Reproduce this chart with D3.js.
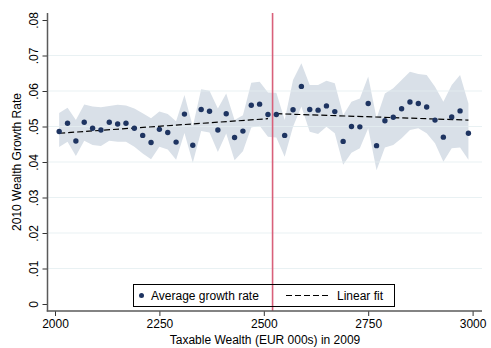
<!DOCTYPE html>
<html>
<head>
<meta charset="utf-8">
<script src="https://cdn.jsdelivr.net/npm/d3@7"></script>
<style>
  body { margin: 0; background: #fff; }
  text { font-family: "Liberation Sans", Arial, sans-serif; font-size: 12px; fill: #000; }
</style>
</head>
<body>
<div id="chart"></div>
<script>
// Bin midpoints (EUR 000s)
var wealth = [2010, 2030, 2050, 2070, 2090, 2110, 2130, 2150, 2170, 2190,
  2210, 2230, 2250, 2270, 2290, 2310, 2330, 2350, 2370, 2390,
  2410, 2430, 2450, 2470, 2490, 2510, 2530, 2550, 2570, 2590,
  2610, 2630, 2650, 2670, 2690, 2710, 2730, 2750, 2770, 2790,
  2810, 2830, 2850, 2870, 2890, 2910, 2930, 2950, 2970, 2990];

// Average growth rate per bin
var growth = [0.0486, 0.0509, 0.0459, 0.0512, 0.0495, 0.0490, 0.0512, 0.0507, 0.0509, 0.0495,
  0.0475, 0.0455, 0.0492, 0.0483, 0.0456, 0.0535, 0.0447, 0.0548, 0.0543, 0.0490,
  0.0536, 0.0469, 0.0487, 0.0560, 0.0563, 0.0534, 0.0534, 0.0475, 0.0547, 0.0613,
  0.0548, 0.0546, 0.0558, 0.0542, 0.0458, 0.0500, 0.0499, 0.0565, 0.0446, 0.0516,
  0.0526, 0.0550, 0.0569, 0.0565, 0.0555, 0.0518, 0.0470, 0.0527, 0.0544, 0.0481];

// Confidence band
var ciUpper = [0.0538, 0.0553, 0.0518, 0.0562, 0.0556, 0.0554, 0.0558, 0.0561, 0.0559, 0.0551,
  0.0537, 0.0523, 0.0542, 0.0535, 0.0515, 0.0589, 0.0500, 0.0605, 0.0601, 0.0551,
  0.0593, 0.0518, 0.0532, 0.0623, 0.0626, 0.0596, 0.0595, 0.0518, 0.0631, 0.0678,
  0.0617, 0.0617, 0.0629, 0.0622, 0.0532, 0.0570, 0.0579, 0.0641, 0.0523, 0.0593,
  0.0608, 0.0631, 0.0654, 0.0648, 0.0645, 0.0612, 0.0570, 0.0617, 0.0645, 0.0565];
var ciLower = [0.0442, 0.0457, 0.0417, 0.0460, 0.0448, 0.0445, 0.0460, 0.0457, 0.0457, 0.0443,
  0.0424, 0.0408, 0.0443, 0.0435, 0.0406, 0.0482, 0.0398, 0.0487, 0.0483, 0.0428,
  0.0480, 0.0405, 0.0430, 0.0497, 0.0502, 0.0471, 0.0469, 0.0415, 0.0499, 0.0556,
  0.0485, 0.0479, 0.0499, 0.0481, 0.0392, 0.0426, 0.0439, 0.0495, 0.0377, 0.0441,
  0.0448, 0.0467, 0.0490, 0.0495, 0.0481, 0.0453, 0.0401, 0.0439, 0.0441, 0.0406];

// Linear fits on each side of the threshold
var fitLeftX = [2010, 2510];
var fitLeftY = [0.0481, 0.0522];
var fitRightX = [2530, 2990];
var fitRightY = [0.0536, 0.0518];

var threshold = 2521;

var xTicks = [2000, 2250, 2500, 2750, 3000];
var yTicks = [0, 0.01, 0.02, 0.03, 0.04, 0.05, 0.06, 0.07, 0.08];
var yTickLabels = ["0", ".01", ".02", ".03", ".04", ".05", ".06", ".07", ".08"];

var svgWidth = 491;
var svgHeight = 348;

// plot region edges
var plotLeft = 47.5, plotRight = 482, plotTop = 13, plotBottom = 311;

var svg = d3.select("#chart")
  .append("svg")
  .attr("width", svgWidth)
  .attr("height", svgHeight);

var xScale = d3.scaleLinear().domain([2000, 3000]).range([55, 472.6]);
var yScale = d3.scaleLinear().domain([0, 0.08]).range([304, 20]);

var points = wealth.map(function(w, i) {
  return { x: w, y: growth[i], hi: ciUpper[i], lo: ciLower[i] };
});

// CI band
var area = d3.area()
  .x(d => xScale(d.x))
  .y0(d => yScale(d.lo))
  .y1(d => yScale(d.hi));

svg.append("path")
  .attr("d", area(points))
  .attr("fill", "#d9e0e8");

// gridlines
svg.append("g")
  .selectAll("line")
  .data(yTicks.filter(t => t > 0 && t < 0.08))
  .enter()
  .append("line")
  .attr("x1", plotLeft)
  .attr("x2", plotRight)
  .attr("y1", d => yScale(d))
  .attr("y2", d => yScale(d))
  .attr("stroke", "#e4eef0")
  .attr("stroke-opacity", 0.8)
  .attr("stroke-width", 1);

// threshold line
svg.append("line")
  .attr("x1", xScale(threshold))
  .attr("x2", xScale(threshold))
  .attr("y1", plotTop)
  .attr("y2", plotBottom)
  .attr("stroke", "#d9607a")
  .attr("stroke-width", 1.6);

// fitted lines
var fitLine = d3.line()
  .x(d => xScale(d[0]))
  .y(d => yScale(d[1]));

[[fitLeftX, fitLeftY], [fitRightX, fitRightY]].forEach(function(f) {
  svg.append("path")
    .attr("d", fitLine(d3.zip(f[0], f[1])))
    .attr("fill", "none")
    .attr("stroke", "#000")
    .attr("stroke-width", 1.2)
    .attr("stroke-dasharray", "6,3");
});

// dots
svg.append("g")
  .selectAll("circle")
  .data(points)
  .enter()
  .append("circle")
  .attr("cx", d => xScale(d.x))
  .attr("cy", d => yScale(d.y))
  .attr("r", 2.7)
  .attr("fill", "#1e3461");

// axes
var leftAxis = d3.axisLeft(yScale)
  .tickValues(yTicks)
  .tickSize(5)
  .tickFormat((d, i) => yTickLabels[i]);

var yAxisG = svg.append("g")
  .attr("transform", "translate(" + plotLeft + ",0)")
  .call(leftAxis);
yAxisG.select(".domain").remove();
yAxisG.append("line")
  .attr("y1", plotTop).attr("y2", plotBottom + 0.5)
  .attr("stroke", "#5a5a5a").attr("stroke-width", 1.5);
yAxisG.selectAll(".tick line").attr("stroke", "#333");
yAxisG.selectAll(".tick text")
  .attr("transform", "rotate(-90)")
  .attr("x", 0)
  .attr("y", -10)
  .attr("dy", "0")
  .attr("text-anchor", "middle")
  .style("font-family", "'Liberation Sans', Arial, sans-serif")
  .style("font-size", "12px")
  .attr("fill", "#000");

var bottomAxis = d3.axisBottom(xScale)
  .tickValues(xTicks)
  .tickSize(5)
  .tickFormat(d3.format("d"));

var xAxisG = svg.append("g")
  .attr("transform", "translate(0," + plotBottom + ")")
  .call(bottomAxis);
xAxisG.select(".domain").remove();
xAxisG.append("line")
  .attr("x1", plotLeft - 0.75).attr("x2", plotRight)
  .attr("stroke", "#5a5a5a").attr("stroke-width", 1.5);
xAxisG.selectAll(".tick line").attr("stroke", "#333");
xAxisG.selectAll(".tick text")
  .attr("y", 8)
  .attr("dy", "0.71em")
  .style("font-family", "'Liberation Sans', Arial, sans-serif")
  .style("font-size", "12px")
  .attr("fill", "#000");

// axis titles
svg.append("text")
  .attr("transform", "translate(17," + ((plotTop + plotBottom) / 2) + ") rotate(-90)")
  .attr("text-anchor", "middle")
  .attr("dy", "0.35em")
  .text("2010 Wealth Growth Rate");

svg.append("text")
  .attr("x", 265)
  .attr("y", 344)
  .attr("text-anchor", "middle")
  .text("Taxable Wealth (EUR 000s) in 2009");

// legend
var legend = svg.append("g");
legend.append("rect")
  .attr("x", 133.5).attr("y", 284.5)
  .attr("width", 261).attr("height", 22)
  .attr("fill", "none")
  .attr("stroke", "#000")
  .attr("stroke-width", 1);
legend.append("circle")
  .attr("cx", 141.5).attr("cy", 295.5).attr("r", 2.5)
  .attr("fill", "#1e3461");
legend.append("text")
  .attr("x", 151).attr("y", 295.5).attr("dy", "0.35em")
  .text("Average growth rate");
legend.append("line")
  .attr("x1", 286).attr("x2", 331)
  .attr("y1", 295.5).attr("y2", 295.5)
  .attr("stroke", "#000")
  .attr("stroke-width", 1.2)
  .attr("stroke-dasharray", "6,3");
legend.append("text")
  .attr("x", 337).attr("y", 295.5).attr("dy", "0.35em")
  .text("Linear fit");
</script>
</body>
</html>
